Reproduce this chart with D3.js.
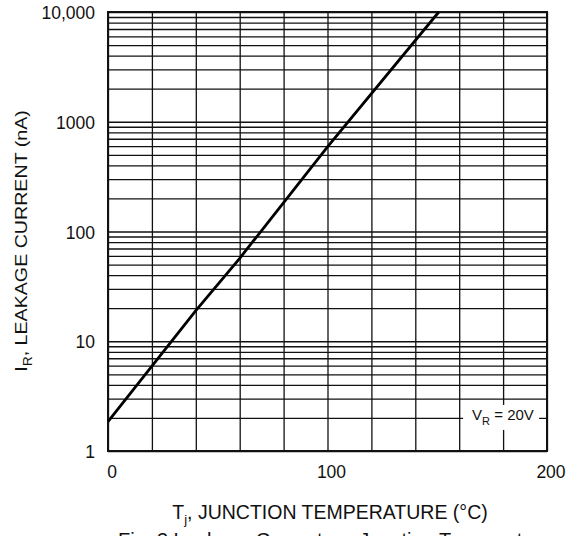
<!DOCTYPE html>
<html>
<head>
<meta charset="utf-8">
<script src="https://cdn.jsdelivr.net/npm/d3@7"></script>
<style>
  body { margin: 0; background: #fff; }
  svg { display: block; font-family: "Liberation Sans", Arial, sans-serif; }
  .grid line { stroke: #111; stroke-width: 1.3; }
  .grid path { display: none; }
  .tick-label { font-size: 17.5px; fill: #111; }
  .axis-title { font-size: 17px; fill: #111; }
</style>
</head>
<body>
<div id="chart"></div>
<script>
// junction temperature (°C) and leakage current (nA)
const tempC = [0, 40, 60, 100, 150.7];
const leakNA = [1.85, 19, 57, 590, 10000];

const xTicks = [0, 20, 40, 60, 80, 100, 120, 140, 160, 180, 200];
const xTickLabels = ["0", "100", "200"];
const yDecades = [1, 10, 100, 1000, 10000];
const yTickLabels = ["1", "10", "100", "1000", "10,000"];

const config = {
  width: 569,
  height: 536,
  margin: {top: 12, right: 22, bottom: 85, left: 108}
};

const innerW = config.width - config.margin.left - config.margin.right;
const innerH = config.height - config.margin.top - config.margin.bottom;

const svg = d3.select("#chart").append("svg")
    .attr("width", config.width)
    .attr("height", config.height);

const chart = svg.append("g")
    .attr("transform", `translate(${config.margin.left},${config.margin.top})`);

const x = d3.scaleLinear().domain([0, 200]).range([0, innerW]);
const y = d3.scaleLog().domain([1, 10000]).range([innerH, 0]);

// vertical grid
chart.append("g")
    .attr("class", "grid")
    .call(d3.axisBottom(x).tickValues(xTicks).tickSize(innerH).tickFormat(""));

// horizontal grid, every 1..9 of each decade
chart.append("g")
    .attr("class", "grid")
    .call(d3.axisLeft(y).tickValues(y.ticks()).tickSize(-innerW).tickFormat(""));

// V_R label sits on a white patch over the grid
const vr = chart.append("g");
vr.append("rect")
    .attr("x", x(180) - 40)
    .attr("y", y(2) - 13)
    .attr("width", 76)
    .attr("height", 25)
    .attr("fill", "#fff");
const vrText = vr.append("text")
    .attr("class", "axis-title")
    .attr("x", x(180) - 31)
    .attr("y", y(2) + 2)
    .style("font-size", "15px");
vrText.append("tspan").text("V");
vrText.append("tspan").attr("dy", 5).style("font-size", "11px").text("R");
vrText.append("tspan").attr("dy", -5).text(" = 20V");

// frame
chart.append("rect")
    .attr("width", innerW)
    .attr("height", innerH)
    .attr("fill", "none")
    .attr("stroke", "#111")
    .attr("stroke-width", 2);

// y tick labels
chart.selectAll(".y-label")
    .data(yDecades)
  .join("text")
    .attr("class", "tick-label")
    .attr("x", -13)
    .attr("y", d => y(d))
    .attr("dy", "0.4em")
    .attr("text-anchor", "end")
    .text((d, i) => yTickLabels[i]);

// x tick labels
chart.selectAll(".x-label")
    .data([0, 100, 200])
  .join("text")
    .attr("class", "tick-label")
    .attr("x", d => x(d) + 4)
    .attr("y", innerH + 27)
    .attr("text-anchor", "middle")
    .text((d, i) => xTickLabels[i]);

// leakage curve
const line = d3.line()
    .x(d => x(d[0]))
    .y(d => y(d[1]));

chart.append("path")
    .datum(d3.zip(tempC, leakNA))
    .attr("fill", "none")
    .attr("stroke", "#000")
    .attr("stroke-width", 2.8)
    .attr("d", line);

// axis titles
const xt = svg.append("text")
    .attr("class", "axis-title")
    .attr("x", 330)
    .attr("y", 519)
    .attr("text-anchor", "middle")
    .style("font-size", "19.5px");
xt.append("tspan").text("T");
xt.append("tspan").attr("dy", 5).style("font-size", "13px").text("j");
xt.append("tspan").attr("dy", -5).text(", JUNCTION TEMPERATURE (°C)");

const yt = svg.append("text")
    .attr("class", "axis-title")
    .attr("transform", "translate(27,241) rotate(-90) scale(1.155,1)")
    .attr("text-anchor", "middle");
yt.append("tspan").text("I");
yt.append("tspan").attr("dy", 5).style("font-size", "12px").text("R");
yt.append("tspan").attr("dy", -5).text(", LEAKAGE CURRENT (nA)");

// figure caption, only its top shows above the page edge
svg.append("text")
    .attr("class", "axis-title")
    .attr("x", 118)
    .attr("y", 547)
    .style("font-size", "20px")
    .text("Fig. 3 Leakage Current vs. Junction Temperature");
</script>
</body>
</html>
